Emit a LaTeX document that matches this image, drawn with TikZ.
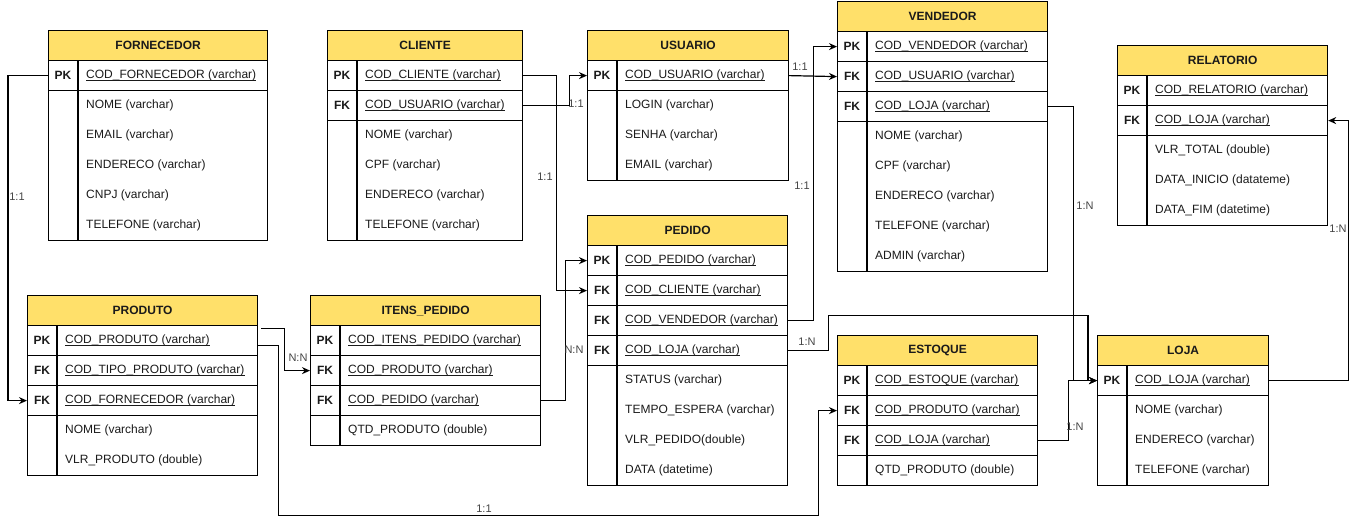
\documentclass[tikz,border=0pt]{standalone}
\usepackage{fontspec}
\setmainfont{Liberation Sans}
\usetikzlibrary{arrows.meta,calc}
\definecolor{hdrfill}{HTML}{FFE06A}
\definecolor{lblgray}{HTML}{444444}
\definecolor{txtdark}{HTML}{1A1A1A}
\tikzset{
  tbl/.style={draw=black, line width=1.2pt, minimum height=30pt, inner sep=0pt, anchor=north west},
  hdr/.style={tbl, fill=hdrfill, font=\fontsize{12}{14}\selectfont\bfseries, text=txtdark},
  keylbl/.style={font=\fontsize{12}{14}\selectfont\bfseries, inner sep=0pt, text=txtdark},
  fld/.style={font=\fontsize{12}{14}\selectfont, anchor=west, inner sep=0pt, text=txtdark},
  uln/.style={line width=0.9pt, draw=txtdark},
  conn/.style={line width=1.2pt, -{Stealth[length=8pt,width=7pt]}},
  plain/.style={line width=1.2pt},
  card/.style={font=\fontsize{11}{13}\selectfont, text=lblgray, inner sep=1pt},
}
\newcommand\ErHead[5]{\node[hdr, minimum width=#4pt] (#1) at (#2,#3) {#5};}
\newcommand\ErKey[6]{%
  \node[tbl, minimum width=#4pt] (#1) at (#2,#3) {};
  \node[keylbl] (#1-k) at ($(#1.west)+(15,0)$) {#5};
  \node[fld] (#1-f) at ($(#1.west)+(38,0)$) {#6};
  \draw[uln] ([yshift=-1.6pt]#1-f.base west) -- ([yshift=-1.6pt]#1-f.base east);
}
\newcommand\ErAttr[6]{%
  \node[tbl, minimum width=#4pt, minimum height=#5*30pt] (#1) at (#2,#3) {};
  \foreach \t [count=\i] in {#6} {
    \node[fld] (#1-\i) at ($(#1.north west)+(38,{15+30*(\i-1)})$) {\t};
  }
}
\newcommand\ErDiv[2]{\draw[plain] ($(#1.south west)+(30,0)$) -- ($(#2.south west)+(30,0)$);}
\begin{document}
\begin{tikzpicture}[x=1pt,y=-1pt]
\useasboundingbox (0,0) rectangle (1357,525);

% FORNECEDOR
\ErHead{forn}{48}{30}{219}{FORNECEDOR}
\ErKey{forn-k1}{48}{60}{219}{PK}{COD\_FORNECEDOR (varchar)}
\ErAttr{forn-a}{48}{90}{219}{5}{NOME (varchar),EMAIL (varchar),ENDERECO (varchar),CNPJ (varchar),TELEFONE (varchar)}
\ErDiv{forn}{forn-a}

% CLIENTE
\ErHead{cli}{327}{30}{195}{CLIENTE}
\ErKey{cli-k1}{327}{60}{195}{PK}{COD\_CLIENTE (varchar)}
\ErKey{cli-k2}{327}{90}{195}{FK}{COD\_USUARIO (varchar)}
\ErAttr{cli-a}{327}{120}{195}{4}{NOME (varchar),CPF (varchar),ENDERECO (varchar),TELEFONE (varchar)}
\ErDiv{cli}{cli-a}

% USUARIO
\ErHead{usu}{587}{30}{201}{USUARIO}
\ErKey{usu-k1}{587}{60}{201}{PK}{COD\_USUARIO (varchar)}
\ErAttr{usu-a}{587}{90}{201}{3}{LOGIN (varchar),SENHA (varchar),EMAIL (varchar)}
\ErDiv{usu}{usu-a}

% VENDEDOR
\ErHead{ven}{837}{1}{210}{VENDEDOR}
\ErKey{ven-k1}{837}{31}{210}{PK}{COD\_VENDEDOR (varchar)}
\ErKey{ven-k2}{837}{61}{210}{FK}{COD\_USUARIO (varchar)}
\ErKey{ven-k3}{837}{91}{210}{FK}{COD\_LOJA (varchar)}
\ErAttr{ven-a}{837}{121}{210}{5}{NOME (varchar),CPF (varchar),ENDERECO (varchar),TELEFONE (varchar),ADMIN (varchar)}
\ErDiv{ven}{ven-a}

% RELATORIO
\ErHead{rel}{1117}{45}{210}{RELATORIO}
\ErKey{rel-k1}{1117}{75}{210}{PK}{COD\_RELATORIO (varchar)}
\ErKey{rel-k2}{1117}{105}{210}{FK}{COD\_LOJA (varchar)}
\ErAttr{rel-a}{1117}{135}{210}{3}{VLR\_TOTAL (double),DATA\_INICIO (datateme),DATA\_FIM (datetime)}
\ErDiv{rel}{rel-a}

% PRODUTO
\ErHead{prod}{27}{295}{230}{PRODUTO}
\ErKey{prod-k1}{27}{325}{230}{PK}{COD\_PRODUTO (varchar)}
\ErKey{prod-k2}{27}{355}{230}{FK}{COD\_TIPO\_PRODUTO (varchar)}
\ErKey{prod-k3}{27}{385}{230}{FK}{COD\_FORNECEDOR (varchar)}
\ErAttr{prod-a}{27}{415}{230}{2}{NOME (varchar),VLR\_PRODUTO (double)}
\ErDiv{prod}{prod-a}

% ITENS_PEDIDO
\ErHead{itens}{310}{295}{230}{ITENS\_PEDIDO}
\ErKey{itens-k1}{310}{325}{230}{PK}{COD\_ITENS\_PEDIDO (varchar)}
\ErKey{itens-k2}{310}{355}{230}{FK}{COD\_PRODUTO (varchar)}
\ErKey{itens-k3}{310}{385}{230}{FK}{COD\_PEDIDO (varchar)}
\ErAttr{itens-a}{310}{415}{230}{1}{QTD\_PRODUTO (double)}
\ErDiv{itens}{itens-a}

% PEDIDO
\ErHead{ped}{587}{215}{200}{PEDIDO}
\ErKey{ped-k1}{587}{245}{200}{PK}{COD\_PEDIDO (varchar)}
\ErKey{ped-k2}{587}{275}{200}{FK}{COD\_CLIENTE (varchar)}
\ErKey{ped-k3}{587}{305}{200}{FK}{COD\_VENDEDOR (varchar)}
\ErKey{ped-k4}{587}{335}{200}{FK}{COD\_LOJA (varchar)}
\ErAttr{ped-a}{587}{365}{200}{4}{STATUS (varchar),TEMPO\_ESPERA (varchar),VLR\_PEDIDO(double),DATA (datetime)}
\ErDiv{ped}{ped-a}

% ESTOQUE
\ErHead{est}{837}{335}{200}{ESTOQUE}
\ErKey{est-k1}{837}{365}{200}{PK}{COD\_ESTOQUE (varchar)}
\ErKey{est-k2}{837}{395}{200}{FK}{COD\_PRODUTO (varchar)}
\ErKey{est-k3}{837}{425}{200}{FK}{COD\_LOJA (varchar)}
\ErAttr{est-a}{837}{455}{200}{1}{QTD\_PRODUTO (double)}
\ErDiv{est}{est-a}

% LOJA
\ErHead{loja}{1097}{335}{171}{LOJA}
\ErKey{loja-k1}{1097}{365}{171}{PK}{COD\_LOJA (varchar)}
\ErAttr{loja-a}{1097}{395}{171}{3}{NOME (varchar),ENDERECO (varchar),TELEFONE (varchar)}
\ErDiv{loja}{loja-a}

% connectors
\draw[conn] (forn-k1.west) -- ++(-40,0) |- (prod-k3.west);
\draw[conn] (cli-k1.east) -- ++(33,0) |- (ped-k2.west);
\draw[conn] (cli-k2.east) -- ++(46,0) |- (usu-k1.west);
\draw[conn] (usu-k1.east) -- (ven-k2.west);
\draw[conn] (ped-k3.east) -- ++(25,0) |- (ven-k1.west);
\draw[conn] (ven-k3.east) -- ++(25,0) |- (loja-k1.west);
\draw[conn] (ped-k4.east) -- ++(40,0) -- ++(0,-35) -| ([xshift=-9pt]loja-k1.west) -- (loja-k1.west);
\draw[conn] (est-k3.east) -- ++(30,0) |- (loja-k1.west);
\draw[conn] (loja-k1.east) -- ++(79,0) |- (rel-k2.east);
\draw[conn] ([shift={(3,-12)}]prod-k1.east) -- ++(23,0) |- (itens-k2.west);
\draw[conn] ([shift={(0,5)}]prod-k1.east) -- ++(20,0) |- ++(540,170) |- (est-k2.west);
\draw[conn] (itens-k3.east) -- ++(24,0) |- (ped-k1.west);

% cardinality labels
\node[card] (c1) at (17,197) {1:1};
\node[card] (c2) at (545,177) {1:1};
\node[card] (c3) at (576,104) {1:1};
\node[card] (c4) at (800,67) {1:1};
\node[card] (c5) at (802,186) {1:1};
\node[card] (c6) at (1085,206) {1:N};
\node[card] (c7) at (807,342) {1:N};
\node[card] (c8) at (1075,427) {1:N};
\node[card] (c9) at (1338,229) {1:N};
\node[card] (c10) at (298,358) {N:N};
\node[card] (c11) at (484,509) {1:1};
\node[card] (c12) at (574,350) {N:N};
\end{tikzpicture}
\end{document}
